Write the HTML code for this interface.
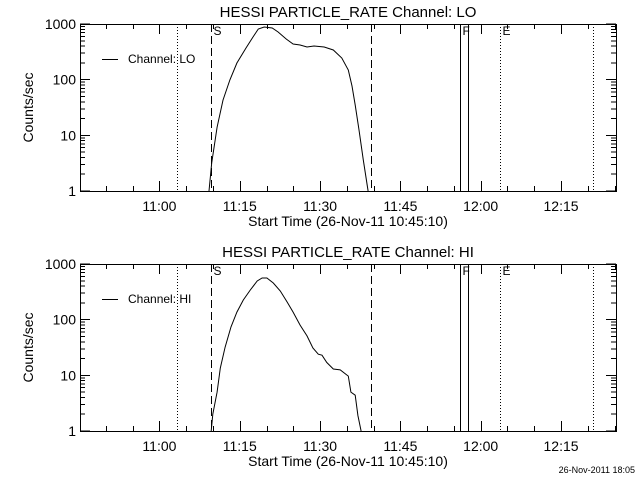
<!DOCTYPE html>
<html><head><meta charset="utf-8"><style>
body{margin:0;background:#fff;}
svg{display:block;font-family:"Liberation Sans",sans-serif;}
</style></head><body>
<svg id="c" width="640" height="480" viewBox="0 0 640 480"></svg>
<script>
const loTimes=[24.1,24.6,25.6,26.7,28.0,29.3,31.0,32.3,33.3,34.4,35.9,37.0,38.5,39.8,41.1,42.4,43.7,45.6,47.3,48.9,50.1,50.8,51.4,52.1,52.9,53.8];
const loValues=[1,3.2,14,43,99,199,370,584,813,883,847,718,537,437,420,386,402,386,341,245,149,77,35,12.5,3.6,1];
const hiTimes=[24.5,24.8,25.6,26.2,27.1,28.2,29.3,30.5,31.8,33.1,34.0,34.9,36.1,37.4,38.7,39.8,41.1,42.4,43.5,44.5,45.2,46.1,47.3,48.6,50.1,50.6,51.4,51.9,52.5];
const hiValues=[1,2.0,5.0,13.5,32,74,137,226,341,495,560,560,455,327,207,137,80,51,31,24,23,17,13,12.5,9.7,5.0,4.4,1.9,1];
const xTickLabels=["11:00","11:15","11:30","11:45","12:00","12:15"];
const xTickMinutes=[14.833,29.833,44.833,59.833,74.833,89.833];
const yTickValues=[1,10,100,1000];
const yTickLabels=["1","10","100","1000"];
const markerMinutes=[18.2,24.4,54.3,71.0,72.5,78.5,95.8];
const markerStyles=["dot","dash","dash","solid","solid","dot","dot"];
const markerNames=["","S","","F","","E",""];

const NS="http://www.w3.org/2000/svg";
const svg=document.getElementById('c');
const X0=80,X1=616,TMAX=100.1;
function mk(tag,attrs,parent){const e=document.createElementNS(NS,tag);for(const k in attrs)e.setAttribute(k,attrs[k]);(parent||svg).appendChild(e);return e;}

function panel(top,chan,times,values){
  const Y0=top, Y1=top+167;
  const g=mk('g',{});
  
  
  const xs=t=>X0+t*(X1-X0)/TMAX;
  const ys=v=>Y1-Math.log10(Math.max(v,1))*(Y1-Y0)/3;
  const t=mk('text',{x:348,y:top-7,'text-anchor':'middle','font-size':15},g);
  t.textContent='HESSI PARTICLE_RATE Channel: '+chan;
  
  const box=mk('rect',{x:X0+0.5,y:Y0+0.5,width:X1-X0,height:Y1-Y0,fill:'none',stroke:'#000','stroke-width':1,'shape-rendering':'crispEdges'},g);
  
  for(let m=-0.1667+5;m<TMAX;m+=5){
    const x=Math.round(xs(m))+0.5;const major=Math.abs(((m+0.1667)%15))<0.01;const L=major?10:5;
    mk('line',{x1:x,y1:Y1,x2:x,y2:Y1-L,stroke:'#000','shape-rendering':'crispEdges'},g);
    mk('line',{x1:x,y1:Y0,x2:x,y2:Y0+L,stroke:'#000','shape-rendering':'crispEdges'},g);
  }
  xTickLabels.forEach((s,i)=>{const e=mk('text',{x:xs(xTickMinutes[i]),y:Y1+20,'text-anchor':'middle','font-size':14},g);e.textContent=s;
    });
  for(let d=0;d<3;d++)for(let k=1;k<=10;k++){
    const y=ys(Math.pow(10,d)*k);const L=(k==1||k==10)?10:5;
    mk('line',{x1:X0,y1:y,x2:X0+L,y2:y,stroke:'#000','shape-rendering':'crispEdges'},g);
    mk('line',{x1:X1,y1:y,x2:X1-L,y2:y,stroke:'#000','shape-rendering':'crispEdges'},g);
  }
  yTickValues.forEach((v,i)=>{const e=mk('text',{x:76,y:ys(v)+5,'text-anchor':'end','font-size':14},g);e.textContent=yTickLabels[i];
    });
  const yt=mk('text',{x:0,y:0,'text-anchor':'middle','font-size':14,transform:`translate(33,${(Y0+Y1)/2}) rotate(-90)`},g);
  yt.textContent='Counts/sec';
  const xt=mk('text',{x:348,y:Y1+35,'text-anchor':'middle','font-size':14},g);
  xt.textContent='Start Time (26-Nov-11 10:45:10)';
  markerMinutes.forEach((m,i)=>{const x=Math.round(xs(m))+0.5;const st=markerStyles[i];
    const l=mk('line',{x1:x,y1:Y0,x2:x,y2:Y1,stroke:'#000','stroke-width':1,'shape-rendering':'crispEdges'},g);
    if(st=='dot')l.setAttribute('stroke-dasharray','1 2');if(st=='dash')l.setAttribute('stroke-dasharray','8 4');
    
    if(markerNames[i]){const e=mk('text',{x:x+2,y:Y0+11,'font-size':12},g);e.textContent=markerNames[i];
      }
  });
  const p=mk('polyline',{points:times.map((tt,i)=>xs(tt).toFixed(1)+','+ys(values[i]).toFixed(1)).join(' '),fill:'none',stroke:'#000','stroke-width':1},g);
  
  const lg=mk('g',{},g);
  mk('line',{x1:102,y1:Y0+35.5,x2:118,y2:Y0+35.5,stroke:'#000','shape-rendering':'crispEdges'},lg);
  const lt=mk('text',{x:128,y:Y0+39,'font-size':12},lg);lt.textContent='Channel: '+chan;
}
panel(24,'LO',loTimes,loValues);
panel(264,'HI',hiTimes,hiValues);
const f=mk('text',{x:635,y:473,'text-anchor':'end','font-size':9});
f.textContent='26-Nov-2011 18:05';


</script>
</body></html>
